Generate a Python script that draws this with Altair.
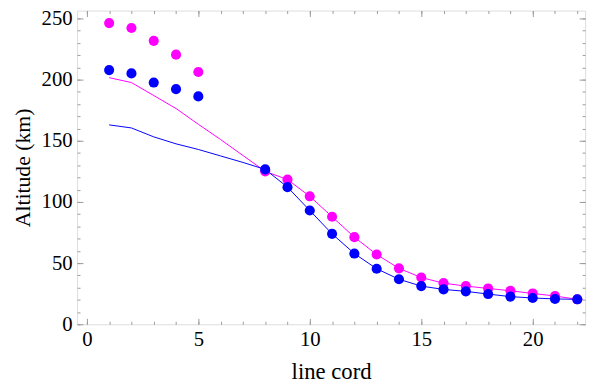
import altair as alt
import pandas as pd

# ---- data ----
x_line = list(range(1, 23))
magenta_line = [201.6, 197.6, 187.0, 176.4, 163.5, 151.0, 138.0, 125.0, 118.3, 104.6, 87.9,
                71.2, 57.0, 45.7, 38.2, 33.6, 31.2, 29.3, 27.4, 25.2, 23.1, 20.4]
blue_line = [163.0, 160.5, 153.2, 147.5, 142.9, 137.6, 132.3, 126.6, 112.1, 93.0, 73.9,
             57.8, 45.4, 36.8, 31.2, 28.5, 26.9, 24.7, 22.6, 21.5, 20.7, 20.4]

x_pts = [1, 2, 3, 4, 5, 8, 9, 10, 11, 12, 13, 14, 15, 16, 17, 18, 19, 20, 21, 22]
magenta_pts = [246.2, 242.2, 231.7, 220.4, 206.2, 125.0, 118.3, 104.6, 87.9, 71.2, 57.0,
               45.7, 38.2, 33.6, 31.2, 29.3, 27.4, 25.2, 23.1, 20.4]
blue_pts = [207.8, 205.1, 197.6, 192.2, 186.3, 126.6, 112.1, 93.0, 73.9, 57.8, 45.4,
            36.8, 31.2, 28.5, 26.9, 24.7, 22.6, 21.5, 20.7, 20.4]

x_major = [0, 5, 10, 15, 20]
x_minor = list(range(0, 23))
y_major = [0, 50, 100, 150, 200, 250]
y_minor = list(range(0, 260, 10))

series = ["magenta", "blue"]
colors = ["#ff00ff", "#0000ff"]

lines_df = pd.DataFrame({
    "x": x_line * 2,
    "y": magenta_line + blue_line,
    "s": ["magenta"] * len(x_line) + ["blue"] * len(x_line),
    "o": list(range(len(x_line))) * 2,
})
pts_df = pd.DataFrame({
    "x": x_pts * 2,
    "y": magenta_pts + blue_pts,
    "s": ["magenta"] * len(x_pts) + ["blue"] * len(x_pts),
})

FONT = "Liberation Serif"
TICK = "#9a9a9a"
xdom = [-0.44, 22.35]
ydom = [0, 256.45]

def ax(orient, values, size, labels=False, title=None, tpad=10, tsize=23):
    kw = dict(orient=orient, values=values, tickSize=size, offset=-size, domain=False,
              grid=False, tickColor=TICK, tickWidth=1, labels=labels,
              labelFont=FONT, labelFontSize=21, labelColor="black",
              titleFont=FONT, titleFontSize=tsize, titleFontWeight="normal", titleColor="black")
    if labels:
        kw["labelPadding"] = 5
        kw["labelFlush"] = False
        kw["labelOverlap"] = False
    if title:
        kw["title"] = title
        kw["titlePadding"] = tpad
    else:
        kw["title"] = None
    return alt.Axis(**kw)

xs = alt.Scale(domain=xdom, nice=False, zero=False)
ys = alt.Scale(domain=ydom, nice=False, zero=False)
cs = alt.Scale(domain=series, range=colors)

lines = alt.Chart(lines_df).mark_line(strokeWidth=1, clip=True).encode(
    x=alt.X("x:Q", scale=xs, axis=ax("bottom", x_major, 6, labels=True, title="line cord", tpad=11)),
    y=alt.Y("y:Q", scale=ys, axis=ax("left", y_major, 6, labels=True, title="Altitude (km)", tpad=7, tsize=22)),
    color=alt.Color("s:N", scale=cs, legend=None),
    detail="s:N",
    order="o:Q",
)

points = alt.Chart(pts_df).mark_circle(size=105, opacity=1, clip=True).encode(
    x=alt.X("x:Q", scale=xs, axis=ax("top", x_major, 6)),
    y=alt.Y("y:Q", scale=ys, axis=ax("right", y_major, 6)),
    color=alt.Color("s:N", scale=cs, legend=None),
)

minor1 = alt.Chart(pts_df).mark_circle(opacity=0).encode(
    x=alt.X("x:Q", scale=xs, axis=ax("bottom", x_minor, 3)),
    y=alt.Y("y:Q", scale=ys, axis=ax("left", y_minor, 3)),
)
minor2 = alt.Chart(pts_df).mark_circle(opacity=0).encode(
    x=alt.X("x:Q", scale=xs, axis=ax("top", x_minor, 3)),
    y=alt.Y("y:Q", scale=ys, axis=ax("right", y_minor, 3)),
)

chart = alt.layer(minor1, minor2, lines, points).resolve_axis(
    x="independent", y="independent"
).properties(
    width=515, height=318,
    autosize=alt.AutoSizeParams(type="none"),
    padding={"left": 70, "top": 0, "right": 7, "bottom": 62},
).configure_view(stroke=TICK, strokeWidth=1).configure(background="white")

chart.save("out.html", embed_options={"renderer": "svg", "actions": False})
